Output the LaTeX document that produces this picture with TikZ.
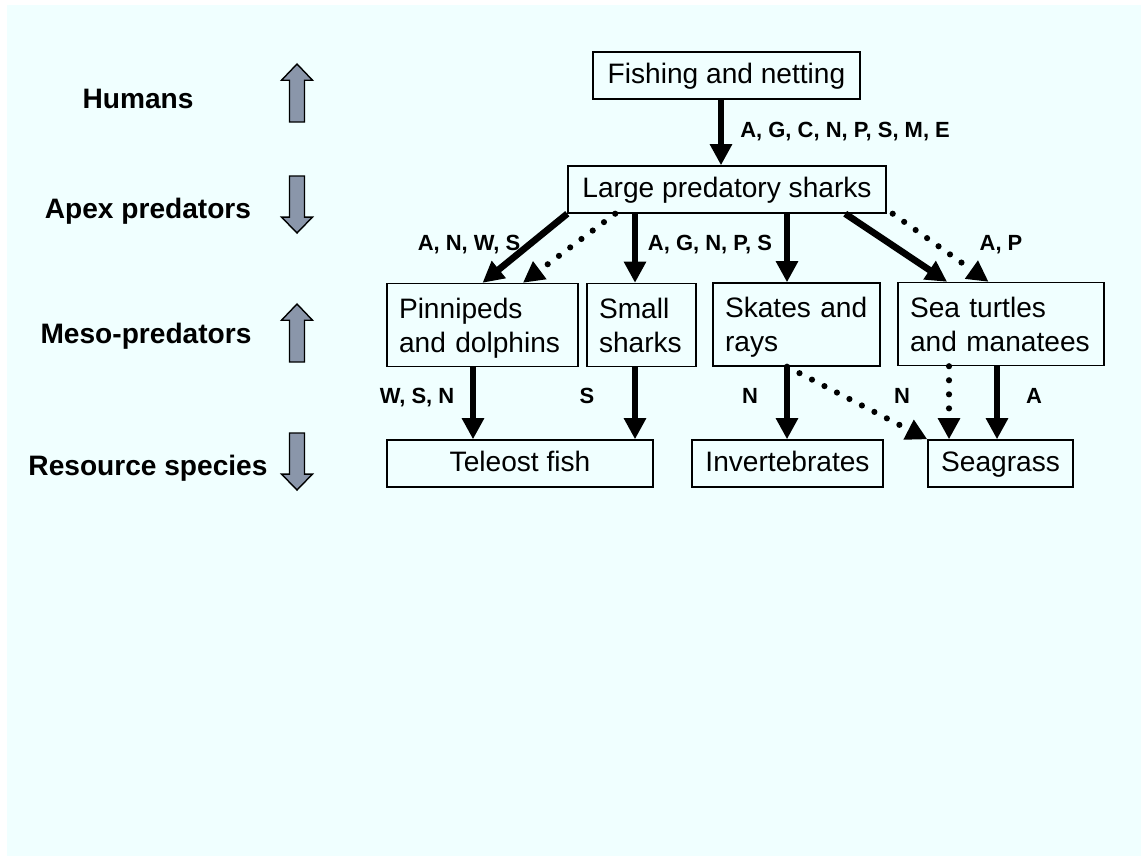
\documentclass[tikz,border=0pt]{standalone}
\usepackage{fontspec}
\setmainfont{Liberation Sans}
\usetikzlibrary{arrows.meta,calc}
\newlength{\pixel}
\setlength{\pixel}{0.02cm}
\definecolor{bgcyan}{RGB}{240,255,255}
\definecolor{arrgray}{RGB}{138,150,170}
\tikzset{
  box/.style={draw, line width=0.8pt, minimum height=47\pixel, inner xsep=12\pixel, inner ysep=0pt,
    text height=12.5pt, text depth=3.4pt, font=\fontsize{16}{19.5}\selectfont},
  twobox/.style={draw, line width=0.8pt, minimum height=83\pixel, inner xsep=12\pixel, inner ysep=0pt,
    align=left, text height=15.1pt, text depth=22.9pt, font=\fontsize{16}{19.5}\selectfont},
  lab/.style={anchor=base, inner sep=0pt, font=\bfseries\fontsize{12.5}{14}\selectfont},
  level/.style={anchor=base, inner sep=0pt, font=\bfseries\fontsize{16}{19}\selectfont},
  fat/.style={line width=3.8pt, -{Triangle[length=12pt,width=12pt]}},
  dots/.style={line width=3.5pt, line cap=round, dash pattern=on 0pt off 8pt, -{Triangle[length=12pt,width=12pt]}},
}
\begin{document}
\begin{tikzpicture}[x=0.02cm, y=-0.02cm]
        \useasboundingbox (0,0) rectangle (1141,856);
        \fill[bgcyan] (7,5) rectangle (1141,856);

        \node[level] (humans) at (138,108) {Humans};
        \node[level] (apex) at (148,218) {Apex predators};
        \node[level] (meso) at (146,343) {Meso-predators};
        \node[level] (resource) at (148,475) {Resource species};
        \foreach \a/\b in {122/64, 176/233, 362/304, 433/490}{
            \pgfmathsetmacro\hb{\b+0.28*(\a-\b)}
            \draw[fill=arrgray, line width=0.8pt] (289.5,\a) -- (289.5,\hb) -- (281.5,\hb) -- (297,\b)
                -- (312.5,\hb) -- (304.5,\hb) -- (304.5,\a) -- cycle;
        }

        \node[box, minimum width=267\pixel] (fish) at (726.5,75.5) {Fishing and netting};
        \node[box, minimum width=318\pixel] (large) at (727,189.5) {Large predatory sharks};
        \node[twobox, text width=167\pixel] (pinn) at (482.5,325) {Pinnipeds\\and dolphins};
        \node[twobox, text width=85\pixel] (small) at (641.5,325) {Small\\sharks};
        \node[twobox, text width=143\pixel] (skates) at (796.5,324.5) {Skates and\\rays};
        \node[twobox, text width=182\pixel] (turtles) at (1001,324) {Sea turtles\\and manatees};
        \node[box, minimum width=266\pixel] (teleost) at (520,463.5) {Teleost fish};
        \node[box, minimum width=191\pixel] (invert) at (787.5,463.5) {Invertebrates};
        \node[box, minimum width=145\pixel] (seagrass) at (1000.5,463.5) {Seagrass};

        \draw[fat] (721,0 |- fish.south) -- (721,0 |- large.north);
        \node[lab, anchor=base west] (lfish) at (740,137.5) {A, G, C, N, P, S, M, E};

        \draw[fat] (large.south west) -- (pinn.north);
        \draw[dots] ($(large.south west)!0.15!(large.south east)$) -- ($(pinn.north west)!0.71!(pinn.north east)$);
        \node[lab] (lpinn) at (469,250.5) {A, N, W, S};
        \draw[fat] (635,0 |- large.south) -- (635,0 |- small.north);
        \node[lab] (lsmall) at (710,250.5) {A, G, N, P, S};
        \draw[fat] (787,0 |- large.south) -- (787,0 |- skates.north);
        \draw[fat] ($(large.south west)!0.87!(large.south east)$) -- ($(turtles.north west)!0.24!(turtles.north east)$);
        \draw[dots] ([xshift=6\pixel]large.south east) -- ($(turtles.north west)!0.44!(turtles.north east)$);
        \node[lab] (lturtles) at (1001,250.5) {A, P};

        \draw[fat] (473,0 |- pinn.south) -- (473,0 |- teleost.north);
        \node[lab] (lteleost) at (417,403.5) {W, S, N};
        \draw[fat] (635,0 |- small.south) -- (635,0 |- teleost.north);
        \node[lab] (lsmallfish) at (587,403.5) {S};
        \draw[fat] (787,0 |- skates.south) -- (787,0 |- invert.north);
        \node[lab] (linvert) at (750,403.5) {N};
        \draw[dots] (787,0 |- skates.south) -- (seagrass.north west);
        \node[lab] (lskgrass) at (902,403.5) {N};
        \draw[dots] (949,0 |- turtles.south) -- (949,0 |- seagrass.north);
        \draw[fat] (997,0 |- turtles.south) -- (997,0 |- seagrass.north);
        \node[lab] (lgrass) at (1034,403.5) {A};
    \end{tikzpicture}
\end{document}
